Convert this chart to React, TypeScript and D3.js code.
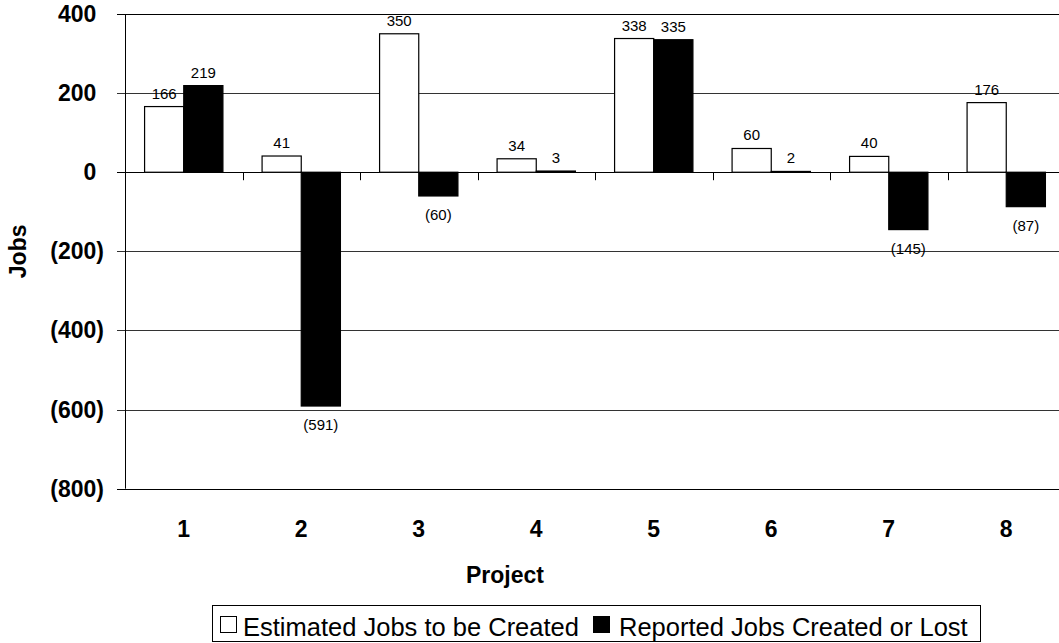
import React, { useEffect, useRef } from "react";
import * as d3 from "d3";

const projects = ["1", "2", "3", "4", "5", "6", "7", "8"];
const estimatedJobs = [166, 41, 350, 34, 338, 60, 40, 176];
const reportedJobs = [219, -591, -60, 3, 335, 2, -145, -87];
const yTicks = [400, 200, 0, -200, -400, -600, -800];
const seriesNames = ["Estimated Jobs to be Created", "Reported Jobs Created or Lost"];

const W = 1059;
const H = 643;
const FONT = "'Liberation Sans', Arial, sans-serif";

const fmt = (v: number) => (v < 0 ? `(${d3.format(",")(-v)})` : d3.format(",")(v));

export default function App() {
  const ref = useRef<SVGSVGElement>(null);

  useEffect(() => {
    const svg = d3.select(ref.current);
    svg.selectAll("*").remove();

    const left = 125;
    const top = 14;
    const plotW = 940;
    const plotH = 474.7;

    const x = d3.scaleBand<string>().domain(projects).range([left, left + plotW]).paddingInner(0).paddingOuter(0);
    const y = d3.scaleLinear().domain([-800, 400]).range([top + plotH, top]);
    const inner = d3.scaleBand<number>().domain([0, 1]).range([0, x.bandwidth()]).paddingInner(0).paddingOuter(0.5);

    const g = svg.append("g");

    // gridlines
    g.selectAll("line.grid")
      .data(yTicks)
      .join("line")
      .attr("x1", left - 8)
      .attr("x2", W)
      .attr("y1", (d) => Math.round(y(d)) + 0.5)
      .attr("y2", (d) => Math.round(y(d)) + 0.5)
      .attr("stroke", (d) => (d === 0 || d === 400 || d === -800 ? "#000" : "#333"))
      .attr("stroke-width", 1);

    // y axis line
    g.append("line")
      .attr("x1", left + 0.5)
      .attr("x2", left + 0.5)
      .attr("y1", y(400))
      .attr("y2", y(-800))
      .attr("stroke", "#000");

    // y tick labels (accounting style: positives keep room for the closing paren)
    const yl = g
      .selectAll("text.ytick")
      .data(yTicks)
      .join("text")
      .attr("x", 104)
      .attr("y", (d) => y(d) + 8)
      .attr("text-anchor", "end")
      .attr("font-family", FONT)
      .attr("font-weight", "bold")
      .attr("font-size", 23)
      .text((d) => fmt(d));
    yl.filter((d) => d >= 0).append("tspan").attr("fill-opacity", 0).text(")");

    // bars
    const series = [estimatedJobs, reportedJobs];
    series.forEach((vals, si) => {
      g.selectAll(`rect.s${si}`)
        .data(vals)
        .join("rect")
        .attr("x", (_, i) => (x(projects[i]) as number) + (inner(si) as number))
        .attr("width", inner.bandwidth())
        .attr("y", (d) => y(Math.max(0, d)))
        .attr("height", (d) => Math.abs(y(d) - y(0)))
        .attr("fill", si === 0 ? "#fff" : "#000")
        .attr("stroke", "#000")
        .attr("stroke-width", 1.2);

      g.selectAll(`text.l${si}`)
        .data(vals)
        .join("text")
        .attr("x", (_, i) => (x(projects[i]) as number) + (inner(si) as number) + inner.bandwidth() / 2)
        .attr("y", (d) => (d >= 0 ? y(d) - 8 : y(d) + 24))
        .attr("text-anchor", "middle")
        .attr("font-family", FONT)
        .attr("font-size", 15)
        .attr("fill", "#000")
        .text((d) => fmt(d));
    });

    // x axis ticks at category boundaries
    g.selectAll("line.xtick")
      .data(projects.slice(1))
      .join("line")
      .attr("x1", (d) => Math.round(x(d) as number) + 0.5)
      .attr("x2", (d) => Math.round(x(d) as number) + 0.5)
      .attr("y1", y(0))
      .attr("y2", y(0) + 8)
      .attr("stroke", "#000");

    // x labels
    g.selectAll("text.xlab")
      .data(projects)
      .join("text")
      .attr("x", (d) => (x(d) as number) + x.bandwidth() / 2)
      .attr("y", 537)
      .attr("text-anchor", "middle")
      .attr("font-family", FONT)
      .attr("font-weight", "bold")
      .attr("font-size", 23)
      .text((d) => d);

    // axis titles
    g.append("text")
      .attr("x", 505)
      .attr("y", 583)
      .attr("text-anchor", "middle")
      .attr("font-family", FONT)
      .attr("font-weight", "bold")
      .attr("font-size", 23)
      .text("Project");

    g.append("text")
      .attr("transform", `translate(26,${y(-200)}) rotate(-90)`)
      .attr("text-anchor", "middle")
      .attr("font-family", FONT)
      .attr("font-weight", "bold")
      .attr("font-size", 23)
      .text("Jobs");

    // legend
    const lg = g.append("g");
    lg.append("rect")
      .attr("x", 212.5)
      .attr("y", 605.5)
      .attr("width", 768)
      .attr("height", 36)
      .attr("fill", "#fff")
      .attr("stroke", "#000");
    const items = [
      { x: 220, tx: 243, fill: "#fff", name: seriesNames[0] },
      { x: 593, tx: 619, fill: "#000", name: seriesNames[1] },
    ];
    items.forEach((it) => {
      lg.append("rect")
        .attr("x", it.x + 0.5)
        .attr("y", 616.5)
        .attr("width", 16)
        .attr("height", 16)
        .attr("fill", it.fill)
        .attr("stroke", "#000");
      lg.append("text")
        .attr("x", it.tx)
        .attr("y", 636)
        .attr("font-family", FONT)
        .attr("font-size", 25.5)
        .text(it.name);
    });
  }, []);

  return (
    <svg
      ref={ref}
      width={W}
      height={H}
      style={{ position: "absolute", left: 0, top: 0, background: "#fff" }}
    />
  );
}
